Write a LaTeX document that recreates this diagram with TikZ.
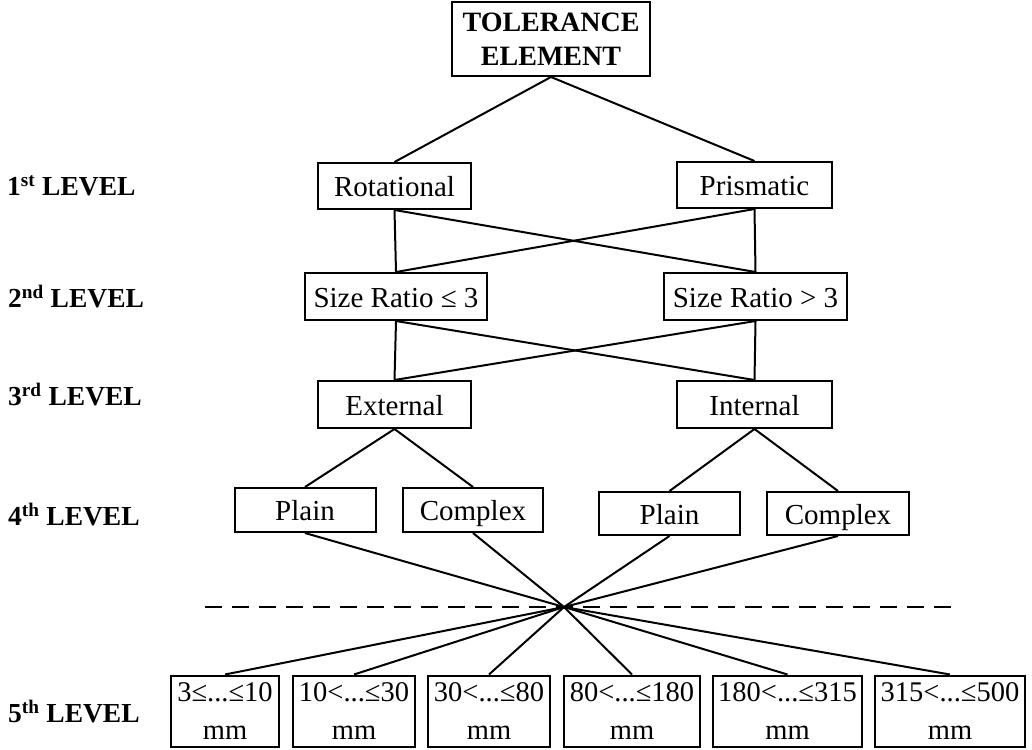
\documentclass[tikz,border=0pt]{standalone}
\usepackage{fontspec}
\setmainfont{Liberation Serif}
\begin{document}
\begin{tikzpicture}[x=1pt,y=-1pt,
  box/.style={draw,line width=2pt,inner sep=0pt,align=center,font=\fontsize{29}{34}\selectfont},
  one/.style={box,text height=23pt,text depth=2pt},
  lvl/.style={anchor=west,inner sep=0pt,font=\fontsize{27.5}{34}\selectfont\bfseries},
  conn/.style={line width=2pt},
  rng/.style={box,minimum height=71pt,font=\fontsize{28.5}{38}\selectfont}]
\useasboundingbox (0,0) rectangle (1032,749);
% top
\node[box,minimum width=198pt,minimum height=74pt,font=\fontsize{28}{34}\selectfont\bfseries] (top) at (551,39) {TOLERANCE\\ELEMENT};
% level 1
\node[one,minimum width=153pt,minimum height=46pt] (rot) at (394.5,186) {Rotational};
\node[one,minimum width=155pt,minimum height=46pt] (pri) at (754.5,185) {Prismatic};
% level 2
\node[one,minimum width=182pt,minimum height=47pt] (sr1) at (396,296.5) {Size Ratio ≤ 3};
\node[one,minimum width=183pt,minimum height=47pt] (sr2) at (755.5,296.5) {Size Ratio > 3};
% level 3
\node[one,minimum width=153pt,minimum height=47pt] (ext) at (394.5,404.5) {External};
\node[one,minimum width=155pt,minimum height=47pt] (int) at (754.5,404.5) {Internal};
% level 4
\node[one,minimum width=141pt,minimum height=44pt] (pl1) at (305,510) {Plain};
\node[one,minimum width=140pt,minimum height=44pt] (co1) at (473,510) {Complex};
\node[one,minimum width=141pt,minimum height=43pt] (pl2) at (669.5,513.5) {Plain};
\node[one,minimum width=142pt,minimum height=43pt] (co2) at (838,513.5) {Complex};
% level 5
\node[rng,minimum width=108pt] (b1) at (225,711) {3≤...≤10\\mm};
\node[rng,minimum width=122pt] (b2) at (354,711) {10<...≤30\\mm};
\node[rng,minimum width=122pt] (b3) at (489,711) {30<...≤80\\mm};
\node[rng,minimum width=136pt] (b4) at (632,711) {80<...≤180\\mm};
\node[rng,minimum width=149pt] (b5) at (787.5,711) {180<...≤315\\mm};
\node[rng,minimum width=150pt] (b6) at (950,711) {315<...≤500\\mm};
% level labels
\node[lvl] (l1) at (7,186) {1\textsuperscript{st} LEVEL};
\node[lvl] (l2) at (8,297) {2\textsuperscript{nd} LEVEL};
\node[lvl] (l3) at (8,395) {3\textsuperscript{rd} LEVEL};
\node[lvl] (l4) at (8,515) {4\textsuperscript{th} LEVEL};
\node[lvl] (l5) at (8,712) {5\textsuperscript{th} LEVEL};
% dashed line
\coordinate (X) at (564,607);
\coordinate (dl) at (205,607);
\coordinate (dr) at (952,607);
\draw[line width=2pt,dash pattern=on 17pt off 10pt] (dl) -- (dr);
% connectors
\draw[conn] (top.south) -- (rot.north);
\draw[conn] (top.south) -- (pri.north);
\draw[conn] (rot.south) -- (sr1.north);
\draw[conn] (rot.south) -- (sr2.north);
\draw[conn] (pri.south) -- (sr1.north);
\draw[conn] (pri.south) -- (sr2.north);
\draw[conn] (sr1.south) -- (ext.north);
\draw[conn] (sr1.south) -- (int.north);
\draw[conn] (sr2.south) -- (ext.north);
\draw[conn] (sr2.south) -- (int.north);
\draw[conn] (ext.south) -- (pl1.north);
\draw[conn] (ext.south) -- (co1.north);
\draw[conn] (int.south) -- (pl2.north);
\draw[conn] (int.south) -- (co2.north);
\foreach \n in {pl1,co1,pl2,co2} \draw[conn] (\n.south) -- (X);
\foreach \n in {b1,b2,b3,b4,b5,b6} \draw[conn] (X) -- (\n.north);
\end{tikzpicture}
\end{document}
